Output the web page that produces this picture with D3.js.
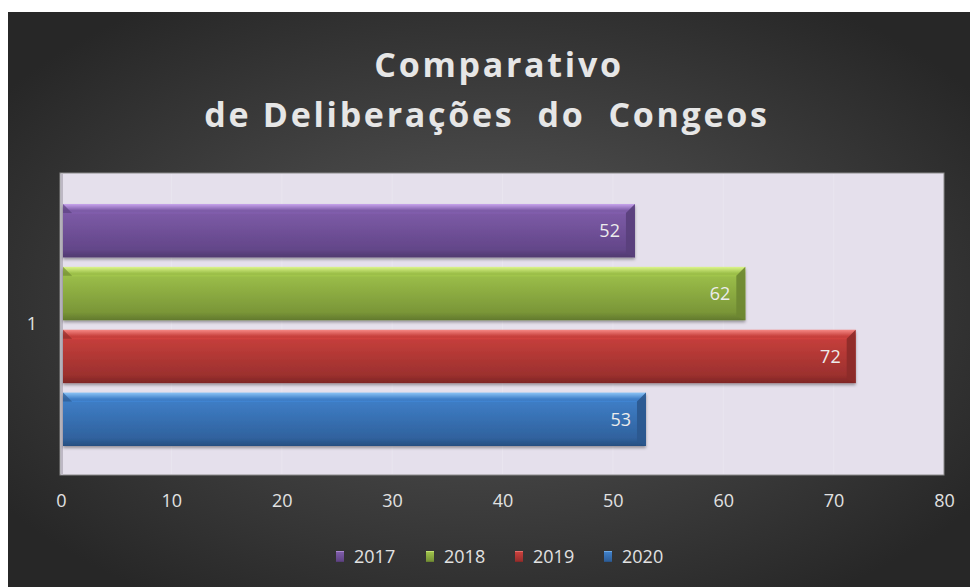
<!DOCTYPE html>
<html lang="pt">
<head>
<meta charset="UTF-8">
<title>Comparativo de Deliberações do Congeos</title>
<script src="https://cdn.jsdelivr.net/npm/d3@7/dist/d3.min.js"></script>
<style>
  html, body { margin: 0; padding: 0; background: #fff; }
  svg { display: block; }
  text { font-family: "Open Sans", "DejaVu Sans", sans-serif; }
</style>
</head>
<body>
<script>
// data
var categories = ["1"];
var years = ["2017", "2018", "2019", "2020"];
var values = [52, 62, 72, 53];
var xTicks = [0, 10, 20, 30, 40, 50, 60, 70, 80];
var titleLines = ["Comparativo", "de Deliberações  do  Congeos"];

var colors = {
  "2017": { top: "#c7a4ec", mid: "#7e5ca8", bot: "#634689" },
  "2018": { top: "#dcf58a", mid: "#9dc04a", bot: "#7a9638" },
  "2019": { top: "#f68a86", mid: "#c8403c", bot: "#9c302e" },
  "2020": { top: "#8cc4f6", mid: "#3f7fc8", bot: "#30629e" }
};

var W = 970, H = 587;
var plot = { left: 61, right: 944, top: 173, bottom: 475 };

var svg = d3.select("body").append("svg")
    .attr("width", W)
    .attr("height", H);

var defs = svg.append("defs");

var bg = defs.append("radialGradient").attr("id", "bg")
    .attr("cx", "50%").attr("cy", "50%").attr("r", "62%");
bg.append("stop").attr("offset", "0%").attr("stop-color", "#5a5a5a");
bg.append("stop").attr("offset", "100%").attr("stop-color", "#272727");

years.forEach(function (y) {
  var c = colors[y];
  var g = defs.append("linearGradient").attr("id", "g" + y)
      .attr("x1", 0).attr("y1", 0).attr("x2", 0).attr("y2", 1);
  g.append("stop").attr("offset", "0%").attr("stop-color", c.top);
  g.append("stop").attr("offset", "12%").attr("stop-color", c.mid);
  g.append("stop").attr("offset", "85%").attr("stop-color", c.bot);
  g.append("stop").attr("offset", "100%").attr("stop-color", d3.color(c.bot).darker(0.6));
});

var shadow = defs.append("filter").attr("id", "shadow")
    .attr("x", "-5%").attr("y", "-20%").attr("width", "110%").attr("height", "150%");
shadow.append("feDropShadow").attr("dx", 0).attr("dy", 2).attr("stdDeviation", 1.5)
    .attr("flood-color", "#000").attr("flood-opacity", 0.35);

// background (white margin on top/left like the source)
svg.append("rect").attr("x", 8).attr("y", 12).attr("width", W - 8).attr("height", H - 12)
    .attr("fill", "url(#bg)");

// title
svg.append("g").selectAll("text")
  .data(titleLines)
  .enter().append("text")
    .attr("x", function (d, i) { return i === 0 ? 499 : 487; })
    .attr("y", function (d, i) { return 77 + i * 50; })
    .attr("text-anchor", "middle")
    .attr("font-size", 34)
    .attr("font-weight", "bold")
    .attr("letter-spacing", 2.7)
    .attr("fill", "#e6e6e6")
    .style("white-space", "pre")
    .text(function (d) { return d; });

// scales
var x = d3.scaleLinear().domain([0, 80]).range([plot.left, plot.right]);
var yCat = d3.scaleBand().domain(categories).range([plot.top, plot.bottom]);
var yMid = yCat("1") + yCat.bandwidth() / 2;
var ySer = d3.scaleBand().domain(years)
    .range([yMid - 120, yMid + 122])
    .paddingInner(0.15);

// plot area
svg.append("rect")
    .attr("x", plot.left - 1).attr("y", plot.top)
    .attr("width", plot.right - plot.left + 1).attr("height", plot.bottom - plot.top)
    .attr("fill", "#e5e0ec")
    .attr("stroke", "#8a8a8a").attr("stroke-width", 1);

// faint gridlines
svg.append("g").selectAll("line")
  .data(xTicks.slice(1, -1))
  .enter().append("line")
    .attr("x1", function (d) { return x(d); }).attr("x2", function (d) { return x(d); })
    .attr("y1", plot.top + 1).attr("y2", plot.bottom - 1)
    .attr("stroke", "#e9e5ef").attr("stroke-width", 1);

// value axis left line
svg.append("line")
    .attr("x1", plot.left + 1).attr("x2", plot.left + 1)
    .attr("y1", plot.top + 1).attr("y2", plot.bottom)
    .attr("stroke", "#bdb8c4").attr("stroke-width", 2);

// x axis
var xAxis = svg.append("g")
    .attr("transform", "translate(0," + (plot.bottom + 1) + ")")
    .call(d3.axisBottom(x).tickValues(xTicks).tickSize(0).tickPadding(18));
xAxis.select(".domain").remove();
xAxis.selectAll("text")
    .attr("font-size", 18)
    .attr("fill", "#e2e2e2")
    .style("font-family", "'Open Sans', sans-serif");

// category axis
var yAxis = svg.append("g")
    .attr("transform", "translate(" + plot.left + ",0)")
    .call(d3.axisLeft(yCat).tickSize(0).tickPadding(24));
yAxis.select(".domain").remove();
yAxis.selectAll("text")
    .attr("font-size", 18)
    .attr("fill", "#e2e2e2")
    .style("font-family", "'Open Sans', sans-serif");

// bars
var bars = svg.append("g").selectAll("g.bar")
  .data(years.map(function (y, i) { return { year: y, value: values[i] }; }))
  .enter().append("g").attr("class", "bar");

var bx0 = x(0) + 2;
bars.append("rect")
    .attr("x", bx0)
    .attr("y", function (d) { return ySer(d.year); })
    .attr("width", function (d) { return x(d.value) - bx0; })
    .attr("height", ySer.bandwidth())
    .attr("fill", function (d) { return "url(#g" + d.year + ")"; })
    .attr("filter", "url(#shadow)");

// bevel at left end
var bev = 9;
bars.append("path")
    .attr("d", function (d) {
      var y0 = ySer(d.year);
      return "M" + bx0 + "," + y0 + "L" + (bx0 + bev) + "," + (y0 + bev) +
             "L" + bx0 + "," + (y0 + bev) + "Z";
    })
    .attr("fill", function (d) { return d3.color(colors[d.year].bot).darker(0.2); })
    .attr("opacity", 0.7);

// bevel at right end
bars.append("path")
    .attr("d", function (d) {
      var xe = x(d.value), y0 = ySer(d.year), y1 = y0 + ySer.bandwidth();
      return "M" + xe + "," + y0 + "L" + (xe - bev) + "," + (y0 + bev) +
             "L" + (xe - bev) + "," + (y1 - 4) + "L" + xe + "," + y1 + "Z";
    })
    .attr("fill", function (d) { return d3.color(colors[d.year].bot).darker(0.3); })
    .attr("opacity", 0.9);

// thin top highlight line
bars.append("line")
    .attr("x1", bx0 + bev).attr("x2", function (d) { return x(d.value) - bev; })
    .attr("y1", function (d) { return ySer(d.year) + bev; })
    .attr("y2", function (d) { return ySer(d.year) + bev; })
    .attr("stroke", function (d) { return d3.color(colors[d.year].mid).brighter(0.3); })
    .attr("stroke-opacity", 0.5);

// value labels
bars.append("text")
    .attr("x", function (d) { return x(d.value) - 15; })
    .attr("y", function (d) { return ySer(d.year) + ySer.bandwidth() / 2; })
    .attr("dy", "0.36em")
    .attr("text-anchor", "end")
    .attr("font-size", 18)
    .attr("fill", "#ececec")
    .text(function (d) { return d.value; });

// legend
var legendX = [340, 430, 519, 608];
var legend = svg.append("g").selectAll("g")
  .data(years)
  .enter().append("g")
    .attr("transform", function (d, i) { return "translate(" + legendX[i] + ",557)"; });
legend.append("rect")
    .attr("x", -4).attr("y", -6).attr("width", 8).attr("height", 11)
    .attr("fill", function (d) { return "url(#g" + d + ")"; });
legend.append("text")
    .attr("x", 14).attr("dy", "0.36em")
    .attr("font-size", 18)
    .attr("fill", "#e2e2e2")
    .text(function (d) { return d; });
</script>
</body>
</html>
